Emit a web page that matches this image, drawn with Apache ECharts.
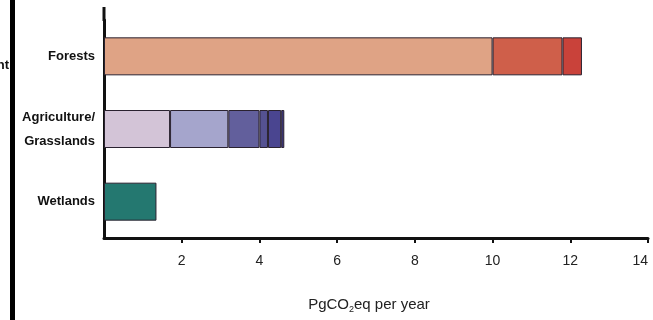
<!DOCTYPE html>
<html>
<head>
<meta charset="utf-8">
<script src="https://cdn.jsdelivr.net/npm/echarts@6/dist/echarts.min.js"></script>
<style>
  html, body { margin: 0; padding: 0; background: #fff; }
</style>
</head>
<body>
<div id="myChart" style="width: 653px; height: 320px;"></div>
<script>
// categories, top to bottom
const categories = ['Forests', 'Agriculture/\nGrasslands', 'Wetlands'];
// stacked segments per category (PgCO2eq per year)
const forestSegments = [10.0, 1.8, 0.5];
const agriSegments = [1.7, 1.5, 0.8, 0.22, 0.34, 0.08];
const wetlandSegments = [1.35];
const xTicks = [2, 4, 6, 8, 10, 12, 14];

const forestColors = ['#dfa385', '#cf5f4a', '#c9423a'];
const agriColors = ['#d3c4d7', '#a5a5cc', '#625f9c', '#555292', '#4a4590', '#3d3880'];
const wetlandColors = ['#247870'];

// 每个分段一个系列，按类别堆叠
let series = [];
function addSegments(segs, colors, catIndex) {
  segs.forEach((v, i) => {
    let data = categories.map(() => null);
    data[catIndex] = v;
    series.push({
      type: 'bar',
      stack: 'total',
      barWidth: 38,
      data: data,
      itemStyle: { color: colors[i], borderColor: '#2a2230', borderWidth: 1 },
      silent: true
    });
  });
}
addSegments(forestSegments, forestColors, 0);
addSegments(agriSegments, agriColors, 1);
addSegments(wetlandSegments, wetlandColors, 2);

let myChart = echarts.init(document.getElementById('myChart'));
myChart.setOption({
  animation: false,
  textStyle: { fontFamily: 'Liberation Sans, Arial, sans-serif' },
  grid: { left: 104, right: 5, top: 20, bottom: 82, outerBoundsMode: 'none', containLabel: false },
  xAxis: {
    type: 'value',
    min: 0,
    max: 14,
    interval: 2,
    splitLine: { show: false },
    axisLine: { show: true, lineStyle: { color: '#111', width: 3 } },
    axisTick: { show: true, length: 5, customValues: xTicks, lineStyle: { color: '#111', width: 2 } },
    axisLabel: {
      color: '#222',
      fontSize: 14,
      margin: 16,
      customValues: xTicks,
      alignMaxLabel: 'right'
    },
    name: 'PgCO{sub|2}eq per year',
    nameLocation: 'middle',
    nameGap: 58,
    nameTextStyle: {
      color: '#222',
      fontSize: 15,
      padding: [0, 14, 0, 0],
      rich: { sub: { fontSize: 9, padding: [9, 0, 0, 0], color: '#222' } }
    }
  },
  yAxis: {
    type: 'category',
    inverse: true,
    data: categories,
    axisLine: { show: true, lineStyle: { color: '#111', width: 3 } },
    axisTick: { show: false },
    axisLabel: {
      color: '#111',
      fontSize: 13,
      fontWeight: 'bold',
      lineHeight: 24,
      margin: 9
    }
  },
  graphic: [
    // y axis runs a bit above the plot area
    { type: 'line', shape: { x1: 104, y1: 7, x2: 104, y2: 21 }, style: { stroke: '#111', lineWidth: 3 } },
    // edge of the neighbouring panel
    { type: 'rect', shape: { x: 10, y: 0, width: 5, height: 320 }, style: { fill: '#000' } },
    { type: 'text', style: { text: 'nt', x: 9, y: 65, align: 'right', verticalAlign: 'middle', fontSize: 13, fontWeight: 'bold', fill: '#111', fontFamily: 'Liberation Sans, Arial, sans-serif' } }
  ],
  series: series
});
</script>
</body>
</html>
